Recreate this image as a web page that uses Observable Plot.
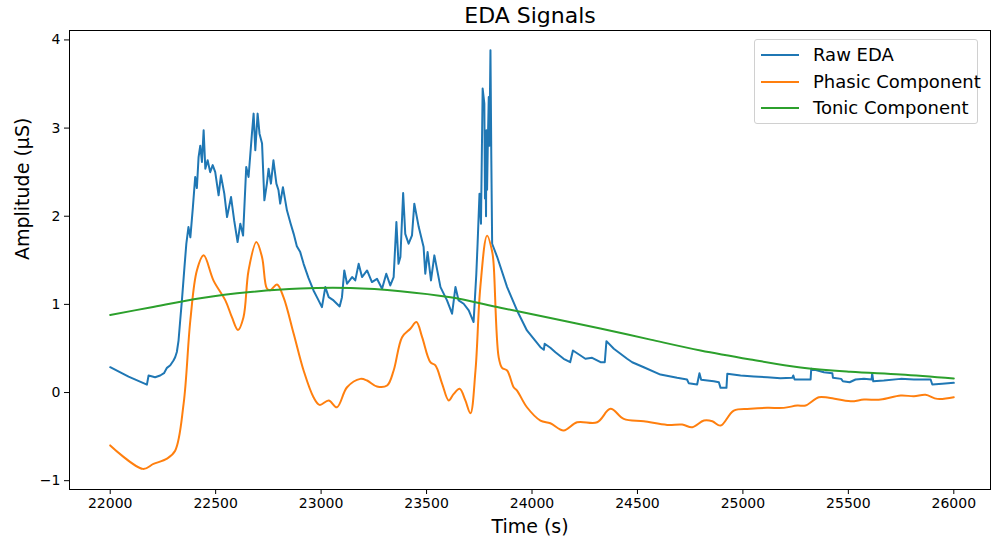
<!DOCTYPE html>
<html>
<head>
<meta charset="utf-8">
<script src="https://cdn.jsdelivr.net/npm/d3@7"></script>
<script src="https://cdn.jsdelivr.net/npm/@observablehq/plot@0.6"></script>
<style>
  html, body { margin: 0; padding: 0; background: #fff; }
  body { font-family: "DejaVu Sans", sans-serif; }
  #wrap { position: relative; width: 992px; height: 539px; overflow: hidden; }
  #legend { position: absolute; left: 754px; top: 39px; width: 224px; height: 85px;
    border: 1px solid #d0d0d0; border-radius: 3px; background: rgba(255,255,255,0.8); box-sizing: border-box; }
  .row { position: absolute; left: 0; height: 26px; display: flex; align-items: center; }
  .sw { position: absolute; left: 6px; width: 38px; height: 2px; }
  .lb { position: absolute; left: 58px; font-size: 18px; white-space: nowrap; color: #000; line-height: 26px; }
</style>
</head>
<body>
<div id="wrap">
  <div id="chart"></div>
  <div id="legend"></div>
</div>
<script>
// ---- Data ----
const seriesNames = ["Raw EDA", "Phasic Component", "Tonic Component"];
const seriesColors = ["#1f77b4", "#ff7f0e", "#2ca02c"];
const xTicks = [22000, 22500, 23000, 23500, 24000, 24500, 25000, 25500, 26000];
const yTicks = [-1, 0, 1, 2, 3, 4];

const rawTime = [22000,22087,22174,22182,22213,22237,22255,22269,22285,22300,22308,22316,22324,22332,22340,22352,22361,22371,22380,22392,22403,22411,22419,22427,22435,22443,22451,22462,22474,22486,22498,22514,22525,22541,22554,22573,22588,22604,22617,22630,22645,22656,22672,22680,22688,22699,22708,22720,22731,22743,22751,22762,22774,22788,22798,22806,22819,22838,22855,22870,22885,22901,22917,22940,22964,22985,23004,23020,23036,23059,23088,23099,23110,23123,23147,23162,23178,23194,23218,23241,23265,23289,23309,23328,23344,23357,23367,23376,23389,23399,23415,23431,23442,23463,23486,23494,23505,23521,23537,23566,23597,23621,23637,23652,23676,23700,23723,23736,23742,23751,23758,23766,23774,23777,23779,23782,23784,23787,23790,23795,23798,23803,23807,23811,23835,23882,23929,23976,24040,24056,24060,24087,24111,24150,24181,24194,24230,24253,24285,24325,24345,24353,24388,24451,24475,24530,24609,24688,24735,24743,24783,24794,24802,24862,24886,24894,24922,24926,24989,25052,25115,25178,25234,25239,25245,25321,25324,25384,25424,25427,25466,25474,25506,25534,25574,25610,25613,25618,25668,25748,25811,25890,25898,25945,26000];
const rawValue = [0.287,0.18,0.09,0.193,0.174,0.193,0.22,0.28,0.31,0.363,0.40,0.46,0.59,0.82,1.045,1.42,1.69,1.877,1.76,2.10,2.445,2.32,2.67,2.80,2.615,2.975,2.54,2.635,2.50,2.58,2.50,2.237,2.464,2.256,1.99,2.218,1.95,1.707,1.916,1.78,2.558,2.445,2.937,3.164,2.748,3.164,2.937,2.824,2.18,2.37,2.54,2.37,2.635,2.37,2.294,2.143,2.33,2.067,1.92,1.80,1.66,1.593,1.46,1.30,1.158,1.06,0.969,1.196,1.082,1.045,0.977,1.082,1.385,1.234,1.31,1.272,1.46,1.31,1.385,1.253,1.29,1.178,1.348,1.215,1.31,1.934,1.46,1.537,2.263,1.80,1.688,1.783,2.143,1.877,1.65,1.348,1.593,1.272,1.556,1.196,1.045,0.894,1.196,1.045,1.007,0.931,0.80,1.348,1.688,2.256,1.916,3.449,3.278,2.2,2.862,2.0,2.975,2.3,2.748,3.353,2.8,3.884,2.672,1.688,1.537,1.196,0.931,0.704,0.514,0.485,0.553,0.508,0.458,0.383,0.344,0.477,0.42,0.383,0.394,0.344,0.344,0.583,0.496,0.383,0.344,0.287,0.204,0.167,0.148,0.106,0.091,0.219,0.144,0.128,0.117,0.053,0.053,0.212,0.193,0.182,0.174,0.162,0.167,0.193,0.148,0.148,0.269,0.231,0.219,0.167,0.155,0.128,0.117,0.148,0.155,0.148,0.219,0.128,0.136,0.155,0.148,0.148,0.091,0.099,0.110];

const phasicTime = [22000,22155,22205,22269,22308,22348,22380,22411,22443,22490,22546,22577,22606,22632,22656,22693,22720,22743,22759,22791,22822,22870,22917,22964,22993,23036,23075,23123,23186,23218,23265,23313,23344,23384,23423,23452,23479,23518,23542,23574,23605,23629,23657,23684,23708,23732,23755,23787,23811,23818,23842,23858,23882,23913,23929,23976,24040,24087,24150,24214,24309,24372,24435,24530,24641,24712,24760,24815,24855,24894,24957,25036,25115,25194,25258,25297,25360,25408,25511,25574,25653,25748,25811,25866,25922,26000];
const phasicValue = [-0.60,-0.866,-0.81,-0.75,-0.66,-0.13,0.82,1.385,1.556,1.27,1.045,0.855,0.71,0.855,1.385,1.707,1.536,1.18,1.16,1.226,1.08,0.667,0.25,-0.053,-0.14,-0.09,-0.167,0.06,0.155,0.136,0.068,0.08,0.25,0.628,0.723,0.80,0.628,0.344,0.307,0.099,-0.09,-0.015,0.042,-0.09,-0.235,0.25,1.196,1.78,1.60,1.46,0.40,0.28,0.25,0.06,0.023,-0.167,-0.318,-0.348,-0.43,-0.337,-0.337,-0.185,-0.299,-0.326,-0.367,-0.363,-0.394,-0.318,-0.326,-0.375,-0.204,-0.185,-0.174,-0.174,-0.148,-0.148,-0.053,-0.06,-0.099,-0.08,-0.08,-0.034,-0.042,-0.026,-0.072,-0.053];

const tonicTime = [22000,22190,22427,22664,22901,23139,23376,23613,23850,24087,24324,24562,24799,25036,25273,25510,25748,26000];
const tonicValue = [0.88,0.965,1.07,1.14,1.18,1.185,1.15,1.08,0.962,0.845,0.727,0.60,0.477,0.375,0.284,0.235,0.204,0.159];

// ---- Build rows ----
const rawRows = rawTime.map((t, i) => ({t, v: rawValue[i], s: seriesNames[0]}));
const phasicRows = phasicTime.map((t, i) => ({t, v: phasicValue[i], s: seriesNames[1]}));
const tonicRows = tonicTime.map((t, i) => ({t, v: tonicValue[i], s: seriesNames[2]}));

const fmt = d => d < 0 ? "\u2212" + Math.abs(d) : String(d);

const chart = Plot.plot({
  width: 992,
  height: 539,
  marginTop: 30,
  marginBottom: 50,
  marginLeft: 69,
  marginRight: 2,
  style: {fontFamily: "DejaVu Sans, sans-serif", fontSize: "14px", background: "white", color: "black"},
  x: {domain: [21807, 26174]},
  y: {domain: [-1.10, 4.107]},
  color: {domain: seriesNames, range: seriesColors},
  marks: [
    Plot.line(rawRows, {x: "t", y: "v", stroke: "s", strokeWidth: 2, curve: "linear"}),
    Plot.line(phasicRows, {x: "t", y: "v", stroke: "s", strokeWidth: 2, curve: "catmull-rom"}),
    Plot.line(tonicRows, {x: "t", y: "v", stroke: "s", strokeWidth: 2, curve: "catmull-rom"}),
    Plot.frame({stroke: "black", strokeWidth: 1}),
    Plot.axisX({ticks: xTicks, tickFormat: fmt, tickSize: 5, tickPadding: 4, label: null, fontSize: 14, stroke: "black", fill: "black"}),
    Plot.axisY({ticks: yTicks, tickFormat: fmt, tickSize: 5, tickPadding: 4, label: null, fontSize: 14, stroke: "black", fill: "black"}),
    Plot.text(["EDA Signals"], {frameAnchor: "top", dy: -15, fontSize: 22, fill: "black", lineAnchor: "middle"}),
    Plot.text(["Time (s)"], {frameAnchor: "bottom", dy: 37, fontSize: 19, fill: "black", lineAnchor: "middle"}),
    Plot.text(["Amplitude (\u00b5S)"], {frameAnchor: "left", dx: -47, rotate: -90, fontSize: 19, fill: "black", lineAnchor: "middle"})
  ]
});
document.getElementById("chart").appendChild(chart);

// ---- Legend ----
const legend = document.getElementById("legend");
seriesNames.forEach((name, i) => {
  const row = document.createElement("div");
  row.className = "row";
  row.style.top = (2 + i * 26.5) + "px";
  row.innerHTML = `<div class="sw" style="background:${seriesColors[i]};top:12px"></div><div class="lb">${name}</div>`;
  legend.appendChild(row);
});
</script>
</body>
</html>
